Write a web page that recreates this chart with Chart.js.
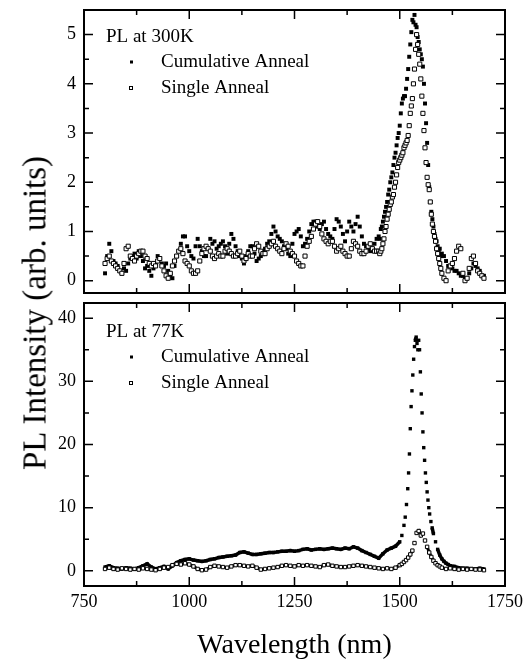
<!DOCTYPE html>
<html>
<head>
<meta charset="utf-8">
<script src="https://cdn.jsdelivr.net/npm/chart.js@4.4.1/dist/chart.umd.min.js"></script>
<style>
  html, body { margin: 0; padding: 0; background: #fff; }
  #wrap { position: relative; width: 532px; height: 662px; overflow: hidden; }
  canvas { position: absolute; left: 0; }
  #c300 { top: 0; }
  #c77 { top: 296px; }
  #ytitle {
    position: absolute; left: 35px; top: 313px;
    transform: translate(-50%, -50%) rotate(-90deg);
    font: 33px "Liberation Serif", "Times New Roman", serif;
    line-height: 1; white-space: nowrap; color: #000;
  }
</style>
</head>
<body>
<div id="wrap">
  <canvas id="c300" width="532" height="298"></canvas>
  <canvas id="c77" width="532" height="366"></canvas>
  <div id="ytitle">PL Intensity (arb. units)</div>
</div>
<script>
// PL spectra, 300K (top) and 77K (bottom)

const xTicks = [750, 875, 1000, 1125, 1250, 1375, 1500, 1625, 1750];
const yTicks300 = [0, 0.5, 1, 1.5, 2, 2.5, 3, 3.5, 4, 4.5, 5];
const yTicks77 = [0, 5, 10, 15, 20, 25, 30, 35, 40];

// 300K: every 5 nm, 2.5 nm across the peak
const wl300 = [
  800, 805, 810, 815, 820, 825, 830, 835, 840, 845,
  850, 855, 860, 865, 870, 875, 880, 885, 890, 895,
  900, 905, 910, 915, 920, 925, 930, 935, 940, 945,
  950, 955, 960, 965, 970, 975, 980, 985, 990, 995,
  1000, 1005, 1010, 1015, 1020, 1025, 1030, 1035, 1040, 1045,
  1050, 1055, 1060, 1065, 1070, 1075, 1080, 1085, 1090, 1095,
  1100, 1105, 1110, 1115, 1120, 1125, 1130, 1135, 1140, 1145,
  1150, 1155, 1160, 1165, 1170, 1175, 1180, 1185, 1190, 1195,
  1200, 1205, 1210, 1215, 1220, 1225, 1230, 1235, 1240, 1245,
  1250, 1255, 1260, 1265, 1270, 1275, 1280, 1285, 1290, 1295,
  1300, 1305, 1310, 1315, 1320, 1325, 1330, 1335, 1340, 1345,
  1350, 1355, 1360, 1365, 1370, 1375, 1380, 1385, 1390, 1395,
  1400, 1405, 1410, 1415, 1420, 1425, 1430, 1435, 1440, 1445,
  1450, 1452.5, 1455, 1457.5, 1460, 1462.5, 1465, 1467.5, 1470, 1472.5,
  1475, 1477.5, 1480, 1482.5, 1485, 1487.5, 1490, 1492.5, 1495, 1497.5,
  1500, 1502.5, 1505, 1507.5, 1510, 1512.5, 1515, 1517.5, 1520, 1522.5,
  1525, 1527.5, 1530, 1532.5, 1535, 1537.5, 1540, 1542.5, 1545, 1547.5,
  1550, 1552.5, 1555, 1557.5, 1560, 1562.5, 1565, 1567.5, 1570, 1572.5,
  1575, 1577.5, 1580, 1582.5, 1585, 1587.5, 1590, 1592.5, 1595, 1597.5,
  1600,
  1605, 1610, 1615, 1620, 1625, 1630, 1635, 1640, 1645, 1650,
  1655, 1660, 1665, 1670, 1675, 1680, 1685, 1690, 1695, 1700
];
const cum300 = [
  0.15, 0.5, 0.75, 0.6, 0.4, 0.35, 0.3, 0.2, 0.15, 0.25,
  0.2, 0.35, 0.45, 0.5, 0.55, 0.45, 0.6, 0.5, 0.4, 0.25,
  0.3, 0.2, 0.1, 0.25, 0.35, 0.5, 0.45, 0.35, 0.3, 0.35,
  0.2, 0.1, 0.05, 0.3, 0.5, 0.6, 0.75, 0.9, 0.9, 0.7,
  0.6, 0.5, 0.45, 0.7, 0.85, 0.7, 0.6, 0.5, 0.5, 0.65,
  0.85, 0.75, 0.8, 0.65, 0.7, 0.75, 0.8, 0.7, 0.55, 0.75,
  0.95, 0.85, 0.7, 0.6, 0.5, 0.45, 0.35, 0.5, 0.6, 0.7,
  0.7, 0.55, 0.4, 0.45, 0.5, 0.6, 0.65, 0.75, 0.8, 0.95,
  1.1, 1.0, 0.9, 0.85, 0.8, 0.7, 0.65, 0.55, 0.5, 0.75,
  0.95, 1.0, 1.05, 0.9, 0.7, 0.75, 0.85, 1.0, 1.15, 1.2,
  1.2, 1.1, 1.05, 1.15, 1.2, 1.05, 0.95, 0.9, 0.85, 1.05,
  1.25, 1.2, 1.1, 0.95, 0.8, 1.0, 1.2, 1.1, 1.0, 1.15,
  1.3, 1.1, 0.9, 0.75, 0.7, 0.65, 0.6, 0.65, 0.75, 0.85,
  0.9, 0.85, 1.05, 1.1, 1.2, 1.3, 1.4, 1.5, 1.6, 1.75,
  1.85, 2.0, 2.1, 2.2, 2.35, 2.5, 2.6, 2.75, 2.9, 3.0,
  3.15, 3.4, 3.6, 3.7, 3.75, 3.75, 3.9, 4.1, 4.3, 4.55,
  4.8, 5.05, 5.3, 5.25, 5.4, 5.2, 5.15, 4.95, 4.85, 4.7,
  4.6, 4.5, 4.35, 4.0, 3.6, 3.2, 2.8, 2.35, 1.9, 1.6,
  1.4, 1.25, 1.1, 0.95, 0.85, 0.8, 0.7, 0.6, 0.65, 0.5,
  0.55,
  0.5, 0.4, 0.3, 0.3, 0.25, 0.2, 0.2, 0.15, 0.1, 0.1,
  0.05, 0.05, 0.15, 0.25, 0.35, 0.3, 0.25, 0.2, 0.1, 0.1
];
const single300 = [
  0.35, 0.45, 0.5, 0.4, 0.35, 0.3, 0.25, 0.2, 0.15, 0.35,
  0.65, 0.7, 0.5, 0.45, 0.4, 0.5, 0.55, 0.6, 0.6, 0.5,
  0.45, 0.35, 0.3, 0.35, 0.3, 0.4, 0.45, 0.3, 0.2, 0.1,
  0.05, 0.15, 0.3, 0.4, 0.5, 0.6, 0.65, 0.55, 0.4, 0.35,
  0.3, 0.2, 0.15, 0.15, 0.2, 0.4, 0.55, 0.65, 0.7, 0.65,
  0.6, 0.5, 0.45, 0.5, 0.55, 0.5, 0.5, 0.6, 0.65, 0.6,
  0.55, 0.5, 0.5, 0.55, 0.6, 0.5, 0.4, 0.45, 0.55, 0.5,
  0.5, 0.65, 0.75, 0.7, 0.6, 0.55, 0.55, 0.65, 0.7, 0.75,
  0.8, 0.7, 0.65, 0.6, 0.55, 0.65, 0.75, 0.7, 0.6, 0.55,
  0.5, 0.4, 0.35, 0.3, 0.3, 0.5, 0.7, 0.8, 0.9, 1.05,
  1.15, 1.2, 1.1, 0.95, 0.85, 0.8, 0.75, 0.8, 0.8, 0.7,
  0.6, 0.65, 0.7, 0.6, 0.55, 0.5, 0.5, 0.65, 0.8, 0.75,
  0.7, 0.6, 0.55, 0.55, 0.6, 0.7, 0.75, 0.65, 0.6, 0.6,
  0.6, 0.55, 0.6, 0.65, 0.75, 0.85, 1.0, 1.1, 1.25, 1.35,
  1.45, 1.55, 1.6, 1.7, 1.75, 1.9, 2.0, 2.15, 2.3, 2.4,
  2.45, 2.5, 2.55, 2.6, 2.7, 2.75, 2.8, 2.85, 2.95, 3.15,
  3.4, 3.55, 3.7, 4.0, 4.3, 4.7, 5.0, 4.8, 4.6, 4.4,
  4.1, 3.75, 3.4, 3.05, 2.7, 2.4, 2.1, 1.95, 1.85, 1.6,
  1.35, 1.15, 1.0, 0.9, 0.8, 0.65, 0.55, 0.45, 0.35, 0.25,
  0.15,
  0.05, 0.0, 0.2, 0.3, 0.35, 0.45, 0.6, 0.7, 0.65, 0.15,
  0.0, 0.05, 0.25, 0.45, 0.5, 0.35, 0.2, 0.15, 0.1, 0.05
];

// 77K cumulative: 800-1490 every 10 nm, then the sharp peak, then the tail
const wl77Cum = [
  800, 810, 820, 830, 840, 850, 860, 870, 880, 890,
  900, 910, 920, 930, 940, 950, 960, 970, 980, 990,
  1000, 1010, 1020, 1030, 1040, 1050, 1060, 1070, 1080, 1090,
  1100, 1110, 1120, 1130, 1140, 1150, 1160, 1170, 1180, 1190,
  1200, 1210, 1220, 1230, 1240, 1250, 1260, 1270, 1280, 1290,
  1300, 1310, 1320, 1330, 1340, 1350, 1360, 1370, 1380, 1390,
  1400, 1410, 1420, 1430, 1440, 1450, 1460, 1470, 1480, 1490,
  1500, 1505, 1510, 1513, 1516, 1519, 1521, 1523, 1525, 1527,
  1529, 1531, 1533, 1535, 1537, 1539, 1541, 1543, 1545, 1547,
  1549, 1551, 1553, 1555, 1557, 1559, 1561, 1563, 1565, 1567,
  1569, 1571, 1574, 1577, 1580, 1585, 1590, 1595, 1600, 1605,
  1610, 1615, 1620,
  1630, 1640, 1650, 1660, 1670, 1680, 1690, 1700
];
const cum77 = [
  0.6, 0.8, 0.5, 0.4, 0.3, 0.5, 0.4, 0.3, 0.5, 0.8,
  1.1, 0.6, 0.3, 0.5, 0.7, 0.3, 0.8, 1.3, 1.6, 1.8,
  1.9, 1.7, 1.6, 1.5, 1.6, 1.8, 1.9, 2.1, 2.2, 2.3,
  2.4, 2.5, 2.9, 3.0, 2.8, 2.6, 2.6, 2.7, 2.8, 2.9,
  2.9, 3.0, 3.1, 3.1, 3.2, 3.1, 3.2, 3.4, 3.5, 3.3,
  3.4, 3.5, 3.4, 3.5, 3.6, 3.5, 3.4, 3.6, 3.5, 3.8,
  3.6, 3.2, 2.9, 2.6, 2.3, 2.0, 2.7, 3.3, 3.6, 3.9,
  4.6, 5.6, 7.2, 8.5, 10.5, 13, 15.5, 18.5, 22.5, 26,
  28.5, 31, 33.5, 35.5, 36.5, 37, 36, 35, 36.5, 35,
  31.5, 28, 25, 22, 19.5, 17.5, 15.5, 14, 12.5, 11.2,
  10, 9, 7.8, 6.8, 5.9, 4.6, 3.4, 2.5, 1.9, 1.5,
  1.2, 1.0, 0.8,
  0.7, 0.5, 0.4, 0.4, 0.3, 0.3, 0.4, 0.3
];

// 77K single: 800-1490 every 10 nm, 1500-1600 every 5 nm, 1610-1700 every 10 nm
const wl77Single = [
  800, 810, 820, 830, 840, 850, 860, 870, 880, 890,
  900, 910, 920, 930, 940, 950, 960, 970, 980, 990,
  1000, 1010, 1020, 1030, 1040, 1050, 1060, 1070, 1080, 1090,
  1100, 1110, 1120, 1130, 1140, 1150, 1160, 1170, 1180, 1190,
  1200, 1210, 1220, 1230, 1240, 1250, 1260, 1270, 1280, 1290,
  1300, 1310, 1320, 1330, 1340, 1350, 1360, 1370, 1380, 1390,
  1400, 1410, 1420, 1430, 1440, 1450, 1460, 1470, 1480, 1490,
  1500, 1505, 1510, 1515, 1520, 1525, 1530, 1535, 1540, 1545,
  1550, 1555, 1560, 1565, 1570, 1575, 1580, 1585, 1590, 1595, 1600,
  1610, 1620, 1630, 1640, 1650, 1660, 1670, 1680, 1690, 1700
];
const single77 = [
  0.3, 0.5, 0.3, 0.2, 0.4, 0.3, 0.2, 0.3, 0.2, 0.4,
  0.3, 0.2, 0.1, 0.3, 0.5, 0.6, 0.9, 1.1, 1.0, 1.2,
  1.0, 0.7, 0.3, 0.1, 0.2, 0.6, 0.8, 0.7, 0.6, 0.5,
  0.7, 0.9, 0.9, 0.8, 0.7, 0.8, 0.5, 0.2, 0.3, 0.4,
  0.5, 0.6, 0.8, 0.9, 0.8, 0.7, 0.9, 0.8, 0.9, 0.8,
  0.7, 0.6, 0.9, 1.0, 0.8, 0.7, 0.6, 0.6, 0.7, 0.8,
  0.9, 0.8, 0.7, 0.6, 0.5, 0.4, 0.3, 0.4, 0.3, 0.5,
  0.9, 1.1, 1.4, 1.7, 2.1, 2.6, 3.2, 4.4, 6.0, 6.3,
  5.6, 5.9, 4.8, 3.8, 2.9, 2.2, 1.6, 1.2, 0.9, 0.7, 0.5,
  0.3, 0.4, 0.3, 0.2, 0.3, 0.2, 0.3, 0.2, 0.2, 0.1
];

Chart.defaults.font.family = '"Liberation Serif", "Times New Roman", serif';
Chart.defaults.color = '#000';

const toXY = (xs, ys) => xs.map((x, i) => ({ x: x, y: ys[i] }));

// leave a gap where neighbouring points jump apart vertically (the sparse peak dots)
const gapColor = ctx => (Math.abs(ctx.p1.y - ctx.p0.y) > 6 ? 'rgba(0,0,0,0)' : '#000');

// frame + inward ticks on all four sides, legend text
const framePlugin = {
  id: 'frame',
  afterDatasetsDraw(chart, args, opts) {
    const { ctx, chartArea: a, scales } = chart;
    ctx.save();
    ctx.strokeStyle = '#000';
    ctx.lineWidth = 1.5;
    ctx.beginPath();
    scales.x.ticks.forEach(t => {
      const px = scales.x.getPixelForValue(t.value);
      const len = t.value % 250 === 0 ? 9 : 5;
      ctx.moveTo(px, a.bottom); ctx.lineTo(px, a.bottom - len);
      ctx.moveTo(px, a.top); ctx.lineTo(px, a.top + len);
    });
    scales.y.ticks.forEach(t => {
      const py = scales.y.getPixelForValue(t.value);
      const len = t.value % opts.yMajor === 0 ? 9 : 5;
      ctx.moveTo(a.left, py); ctx.lineTo(a.left + len, py);
      ctx.moveTo(a.right, py); ctx.lineTo(a.right - len, py);
    });
    ctx.stroke();
    ctx.lineWidth = 2;
    ctx.strokeRect(a.left, a.top, a.right - a.left, a.bottom - a.top);

    // legend block
    ctx.fillStyle = '#000';
    ctx.font = '19px "Liberation Serif", "Times New Roman", serif';
    ctx.textBaseline = 'middle';
    ctx.textAlign = 'left';
    ctx.fillText(opts.title, 106, opts.y0);
    ctx.fillText('Cumulative Anneal', 161, opts.y0 + 25);
    ctx.fillText('Single Anneal', 161, opts.y0 + 51);
    ctx.fillRect(130, opts.y0 + 25 - 1.5, 3, 3);
    ctx.lineWidth = 1;
    ctx.strokeRect(129.5, opts.y0 + 51 - 1.5, 3, 3);
    ctx.restore();
  }
};

function makePanel(id, datasets, yMin, yMax, yTicks, yMajor, bottomPanel, title, y0) {
  const xAxis = {
    type: 'linear', min: 750, max: 1750,
    grid: { display: false, drawTicks: false },
    border: { display: false },
    afterBuildTicks: s => { s.ticks = xTicks.map(v => ({ value: v })); },
    ticks: {
      display: bottomPanel,
      padding: 5,
      font: { size: 18 },
      callback: v => (v % 250 === 0 ? String(v) : '')
    },
    title: {
      display: bottomPanel,
      text: 'Wavelength (nm)',
      font: { size: 28 },
      padding: { top: 0, bottom: 0 }
    },
    afterFit: s => {
      s.height = bottomPanel ? 76 : 4;
      s.paddingLeft = 0; s.paddingRight = 0;
    }
  };
  const yAxis = {
    type: 'linear', min: yMin, max: yMax,
    grid: { display: false, drawTicks: false },
    border: { display: false },
    afterBuildTicks: s => { s.ticks = yTicks.map(v => ({ value: v })); },
    ticks: {
      padding: 8,
      font: { size: 18 },
      callback: v => (v % yMajor === 0 ? String(v) : '')
    },
    afterFit: s => {
      s.width = 84;
      s.paddingTop = 0; s.paddingBottom = 0;
    }
  };
  return new Chart(document.getElementById(id), {
    type: 'scatter',
    data: { datasets: datasets },
    options: {
      responsive: false,
      animation: false,
      devicePixelRatio: 1,
      layout: { padding: { top: bottomPanel ? 7 : 10, right: 27, left: 0, bottom: 0 } },
      plugins: {
        legend: { display: false },
        tooltip: { enabled: false },
        frame: { yMajor: yMajor, title: title, y0: y0 }
      },
      scales: { x: xAxis, y: yAxis }
    },
    plugins: [framePlugin]
  });
}

makePanel('c300', [
  {
    label: 'Single Anneal',
    data: toXY(wl300, single300),
    pointStyle: 'rect', pointRadius: 2.9,
    backgroundColor: '#fff', borderColor: '#000', borderWidth: 1
  },
  {
    label: 'Cumulative Anneal',
    data: toXY(wl300, cum300),
    pointStyle: 'rect', pointRadius: 2.8,
    backgroundColor: '#000', borderColor: '#000', borderWidth: 0
  }
], -0.25, 5.5, yTicks300, 1, false, 'PL at 300K', 37);

makePanel('c77', [
  {
    label: 'Single Anneal',
    data: toXY(wl77Single, single77),
    showLine: true, borderColor: '#000', borderWidth: 3,
    segment: { borderColor: gapColor },
    pointStyle: 'rect', pointRadius: 2.4,
    pointBackgroundColor: '#fff', pointBorderColor: '#000', pointBorderWidth: 1
  },
  {
    label: 'Cumulative Anneal',
    data: toXY(wl77Cum, cum77),
    showLine: true, borderColor: '#000', borderWidth: 3.5,
    segment: { borderColor: gapColor },
    pointStyle: 'rect', pointRadius: 2.4,
    pointBackgroundColor: '#000', pointBorderColor: '#000', pointBorderWidth: 0
  }
], -2.4, 42.4, yTicks77, 10, true, 'PL at 77K', 36);
</script>
</body>
</html>
